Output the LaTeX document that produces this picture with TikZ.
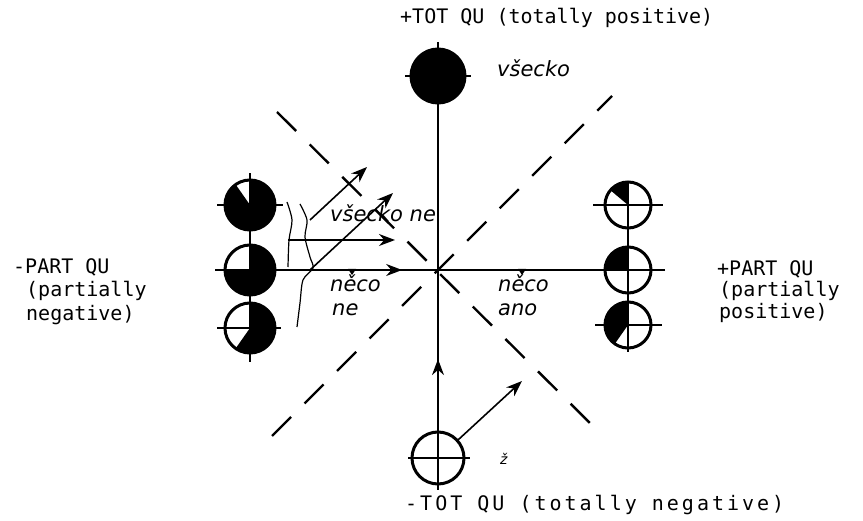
\documentclass[tikz,border=0pt]{standalone}
\usepackage{fontspec}
\newfontfamily\tyfont{DejaVu Sans Mono}
\newfontfamily\labfont{DejaVu Sans}
\usetikzlibrary{arrows.meta,decorations.markings,calc}
\newcommand\qsector[4]{\fill (#1) -- ++(#2:#4) arc[start angle=#2,end angle=#3,radius=#4] -- cycle;}
\begin{document}
\begin{tikzpicture}[x=1pt,y=1pt,
  disc/.style={circle,draw,line width=3pt,inner sep=0pt,outer sep=0pt},
  axisline/.style={line width=1.7pt},
  diag/.style={line width=2.4pt,dash pattern=on 27pt off 19pt},
  arr/.style={line width=1.6pt,-{Stealth[length=16pt,width=12pt]}},
  wav/.style={line width=1.2pt},
  tw/.style={font=\tyfont\fontsize{20}{22}\selectfont,anchor=west,inner sep=0pt},
  itlab/.style={font=\labfont\itshape\fontsize{21}{24}\selectfont,anchor=west,inner sep=0pt},
  midarrow/.style={decoration={markings,mark=at position #1 with {\arrow{Stealth[length=16pt,width=12pt]}}},postaction={decorate}}
  ]
\useasboundingbox (0,0) rectangle (863,520);

% centres
\coordinate (C) at (438,250);
\coordinate (tpc) at (438,444);
\coordinate (tnc) at (438,62);
\coordinate (L1c) at (250,315);
\coordinate (L2c) at (250,250);
\coordinate (L3c) at (250,192);
\coordinate (R1c) at (628,315);
\coordinate (R2c) at (628,250);
\coordinate (R3c) at (628,195);

% dashed diagonals
\coordinate (d1a) at (277,408);
\coordinate (d1b) at (600,87);
\coordinate (d2a) at (272,84);
\coordinate (d2b) at (612,424);
\draw[diag] (d1a) -- (d1b);
\draw[diag] (d2a) -- (d2b);

% fills
\fill (tpc) circle[radius=27];
\qsector{L1c}{125}{450}{25}
\qsector{L2c}{180}{450}{25}
\qsector{L3c}{235}{450}{25}
\qsector{R1c}{90}{140}{23}
\qsector{R2c}{90}{180}{23}
\qsector{R3c}{90}{235}{23}

% crosses and ticks
\draw[axisline] (250,158) -- (250,347);
\draw[axisline] (217,315) -- (283,315);
\draw[axisline] (215,250) -- (285,250);
\draw[axisline] (217,192) -- (281,192);
\draw[axisline] (628,168) -- (628,339);
\draw[axisline] (593,315) -- (663,315);
\draw[axisline] (665,250) -- (590,250);
\draw[axisline] (595,195) -- (662,195);
\draw[axisline] (405,444) -- (471,444);
\draw[axisline] (438,478) -- (438,410);
\draw[axisline] (408,62) -- (470,62);
\draw[axisline] (438,30) -- (438,95);

% circle nodes
\node[disc,minimum size=54pt] (tp) at (tpc) {};
\node[disc,minimum size=52pt] (tn) at (tnc) {};
\node[disc,minimum size=50pt] (L1) at (L1c) {};
\node[disc,minimum size=50pt] (L2) at (L2c) {};
\node[disc,minimum size=50pt] (L3) at (L3c) {};
\node[disc,minimum size=46pt] (R1) at (R1c) {};
\node[disc,minimum size=46pt] (R2) at (R2c) {};
\node[disc,minimum size=46pt] (R3) at (R3c) {};

% axes
\draw[axisline] (tp.south) -- (C);
\draw[axisline,midarrow=0.45] (tn.north) -- (C);
\draw[axisline,midarrow=0.78] (L2.east) -- (C);
\draw[axisline] (C) -- (R2.west);

% small marks on the axis
\fill (348,251) -- (356,251) -- (352,245) -- cycle;
\fill (518,251) -- (526,251) -- (522,245) -- cycle;

% arrows
\coordinate (a1s) at (288,280);
\coordinate (a1e) at (395,280);
\coordinate (a2s) at (310,250);
\coordinate (a2e) at (393,327);
\coordinate (a3s) at (310,300);
\coordinate (a3e) at (367,353);
\coordinate (a4e) at (522,139);
\draw[arr] (a1s) -- (a1e);
\draw[arr] (a2s) -- (a2e);
\draw[arr] (a3s) -- (a3e);
\draw[arr] (tn.42) -- (a4e);

% wavy strokes
\draw[wav] plot[smooth] coordinates {(287,318) (292,300) (289,280) (288,253)};
\draw[wav] plot[smooth] coordinates {(300,316) (307,300) (305,283) (310,263) (313,252) (303,240) (300,217) (297,193)};

% labels
\node[tw] (ltp) at (400,502) {+TOT QU (totally positive)};
\node[tw,font=\tyfont\fontsize{20}{22}\selectfont\addfontfeature{LetterSpace=15}] (ltn) at (405,15) {-TOT QU (totally negative)};
\node[tw] (lneg1) at (13,253) {-PART QU};
\node[tw] (lneg2) at (26,229) {(partially};
\node[tw] (lneg3) at (26,205) {negative)};
\node[tw] (lpos1) at (717,251) {+PART QU};
\node[tw] (lpos2) at (719,229) {(partially};
\node[tw] (lpos3) at (719,207) {positive)};
\node[itlab] (vs) at (497,452) {všecko};
\node[itlab] (vsn) at (330,307) {všecko ne};
\node[itlab] (nc1) at (330,237) {něco};
\node[itlab] (ne) at (332,210) {ne};
\node[itlab] (nc2) at (498,237) {něco};
\node[itlab] (ano) at (498,210) {ano};
\node[itlab,font=\labfont\itshape\fontsize{14}{16}\selectfont] (zz) at (500,61) {ž};
\end{tikzpicture}
\end{document}
